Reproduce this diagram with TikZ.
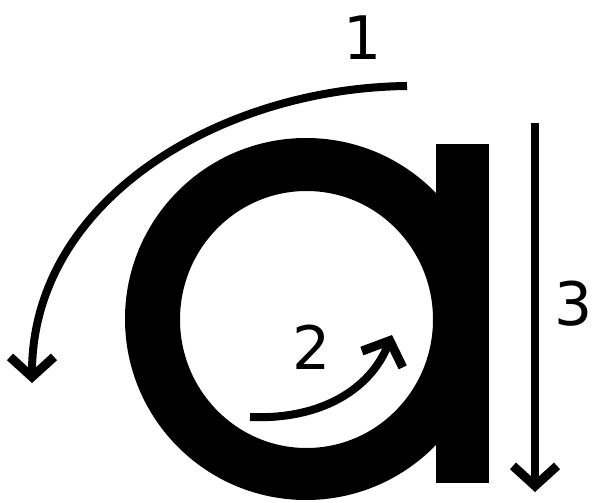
\documentclass[tikz,border=0pt]{standalone}
\usepackage{fontspec}
\setmainfont{DejaVu Sans}
\usetikzlibrary{arrows.meta}
\begin{document}
\begin{tikzpicture}[x=1pt,y=-1pt,
  arr/.style={line width=8pt, -{Straight Barb[sharp,length=20pt,width=44pt,line width=9pt]}},
  lbl/.style={font=\fontsize{60}{60}\selectfont, inner sep=0pt}]
\useasboundingbox (0,0) rectangle (594,503);
% the letter a
\fill[even odd rule] (306,319) circle[radius=181] (306.5,319.5) ellipse[x radius=126.5, y radius=128.5];
\fill (436,144) rectangle (489,483);
% coordinates
\coordinate (a1s) at (407,86);
\coordinate (a1e) at (32,383);
\coordinate (a2s) at (250,417);
\coordinate (a2e) at (392,335);
\coordinate (a3s) at (535,123);
\coordinate (a3e) at (535,492);
% arrows
\draw[arr] (a1s) .. controls (220,88) and (32,200) .. (a1e);
\draw[arr] (a2s) .. controls (320,420) and (370,390) .. (a2e);
\draw[arr] (a3s) -- (a3e);
% labels
\node[lbl] (l1) at (363,38) {1};
\node[lbl] (l2) at (312,347) {2};
\node[lbl] (l3) at (574,304) {3};
\end{tikzpicture}
\end{document}
